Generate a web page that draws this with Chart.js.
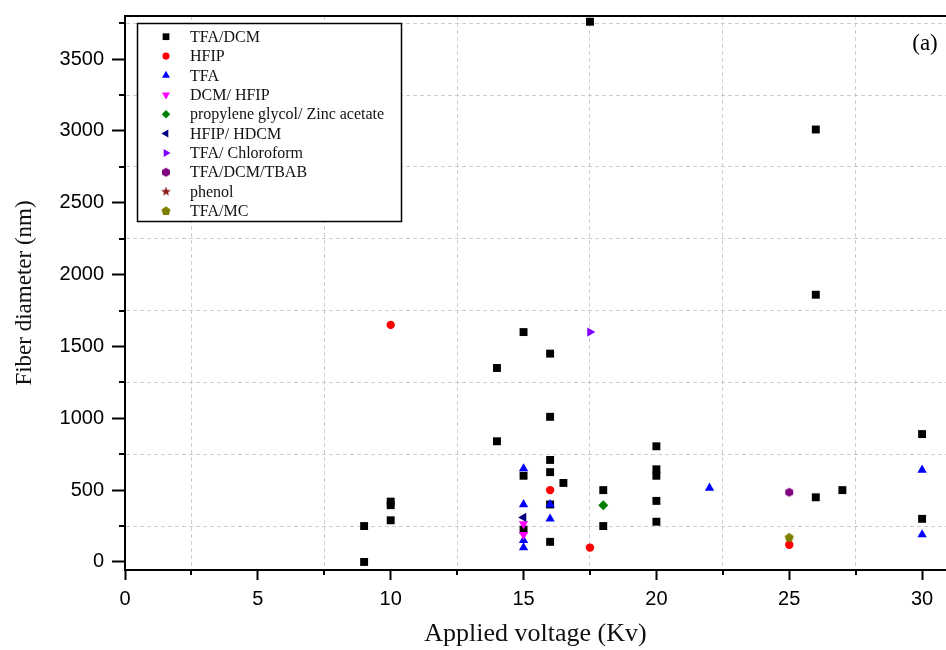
<!DOCTYPE html>
<html>
<head>
<meta charset="utf-8">
<script src="https://cdn.jsdelivr.net/npm/chart.js@4.4.0/dist/chart.umd.min.js"></script>
<style>
  html, body { margin: 0; padding: 0; background: #fff; }
</style>
</head>
<body>
<canvas id="c" width="946" height="650"></canvas>
<script>
// x = applied voltage (kV), y = fiber diameter (nm)
const tfaDcmX = [9, 9, 10, 10, 10, 14, 14, 15, 15, 15, 16, 16, 16, 16, 16, 16, 16.5, 17.5, 18, 18, 20, 20, 20, 20, 20, 26, 26, 26, 27, 30, 30];
const tfaDcmY = [0, 250, 420, 395, 290, 1350, 840, 1600, 600, 225, 1450, 1010, 710, 625, 400, 140, 550, 3760, 500, 250, 805, 645, 600, 425, 280, 3010, 1860, 450, 500, 890, 300];

const hfipX = [10, 16, 17.5, 25];
const hfipY = [1650, 500, 100, 120];

const tfaX = [15, 15, 15, 15, 16, 16, 22, 30, 30];
const tfaY = [650, 400, 150, 100, 400, 300, 515, 640, 190];

const dcmHfipX = [15, 15];
const dcmHfipY = [265, 190];

const pgZnX = [18];
const pgZnY = [395];

const hfipHdcmX = [15];
const hfipHdcmY = [310];

const tfaChlX = [17.5];
const tfaChlY = [1600];

const tbabX = [25];
const tbabY = [485];

const phenolX = [];
const phenolY = [];

const tfaMcX = [25];
const tfaMcY = [170];

const xMax = 30.9;
const yMin = -56, yMax = 3800;
const xMajor = [0, 5, 10, 15, 20, 25, 30];
const yMajor = [0, 500, 1000, 1500, 2000, 2500, 3000, 3500];
const xMinor = xMajor.map(v => v + 2.5).filter(v => v < xMax);
const yMinor = yMajor.map(v => v + 250).filter(v => v < yMax);

const gridColor = 'rgba(200,180,198,0.75)';

function pts(xs, ys) {
    return xs.map(function(x, i) { return { x: x, y: ys[i] }; });
}

// eigene Marker (Sechseck, Fuenfeck, Stern)
function shapeCanvas(n, r, color, inner) {
    const s = Math.ceil(r * 2 + 2);
    const cv = document.createElement('canvas');
    cv.width = s; cv.height = s;
    const g = cv.getContext('2d');
    g.fillStyle = color;
    g.beginPath();
    const steps = inner ? n * 2 : n;
    for (let i = 0; i < steps; i++) {
        const a = -Math.PI / 2 + i * Math.PI * 2 / steps;
        const rr = inner && i % 2 ? r * inner : r;
        const px = s / 2 + rr * Math.cos(a), py = s / 2 + rr * Math.sin(a);
        if (i === 0) g.moveTo(px, py); else g.lineTo(px, py);
    }
    g.closePath();
    g.fill();
    return cv;
}

function ds(label, xs, ys, color, style, radius, rot) {
    return {
        label: label,
        data: pts(xs, ys),
        backgroundColor: color,
        borderColor: color,
        pointStyle: style,
        pointRadius: radius,
        pointRotation: rot || 0,
        pointBorderWidth: 0,
        showLine: false
    };
}

const datasets = [
    ds('TFA/DCM', tfaDcmX, tfaDcmY, '#000000', 'rect', 5.6),
    ds('HFIP', hfipX, hfipY, '#ff0000', 'circle', 4.2),
    ds('TFA', tfaX, tfaY, '#0000ff', 'triangle', 5.4),
    ds('DCM/ HFIP', dcmHfipX, dcmHfipY, '#ff00ff', 'triangle', 5.4, 180),
    ds('propylene glycol/ Zinc acetate', pgZnX, pgZnY, '#008000', 'rectRot', 5),
    ds('HFIP/ HDCM', hfipHdcmX, hfipHdcmY, '#000080', 'triangle', 5.4, -90),
    ds('TFA/ Chloroform', tfaChlX, tfaChlY, '#8000ff', 'triangle', 5.4, 90),
    ds('TFA/DCM/TBAB', tbabX, tbabY, '#800080', shapeCanvas(6, 4.6, '#800080'), 4.6),
    ds('phenol', phenolX, phenolY, '#8b1a1a', shapeCanvas(5, 5, '#8b1a1a', 0.42), 5),
    ds('TFA/MC', tfaMcX, tfaMcY, '#808000', shapeCanvas(5, 4.8, '#808000'), 4.8)
];
datasets.forEach(function(d, i) { d.order = -i; });

const framePlugin = {
    id: 'frame',
    afterDraw: function(chart) {
        const ctx = chart.ctx;
        const a = chart.chartArea;
        const xs = chart.scales.x, ys = chart.scales.y;
        ctx.save();
        // obere Rahmenlinie
        ctx.strokeStyle = '#000';
        ctx.lineWidth = 2;
        ctx.beginPath();
        ctx.moveTo(a.left - 1, a.top);
        ctx.lineTo(a.right, a.top);
        ctx.stroke();
        // kurze Nebenstriche
        xMinor.forEach(function(v) {
            const p = Math.round(xs.getPixelForValue(v));
            ctx.beginPath(); ctx.moveTo(p, a.bottom); ctx.lineTo(p, a.bottom + 5); ctx.stroke();
        });
        yMinor.forEach(function(v) {
            const p = Math.round(ys.getPixelForValue(v));
            ctx.beginPath(); ctx.moveTo(a.left, p); ctx.lineTo(a.left - 6, p); ctx.stroke();
        });
        // Legende
        const lx = 137.5, ly = 23.5, lw = 264, lh = 198;
        ctx.fillStyle = '#fff';
        ctx.fillRect(lx, ly, lw, lh);
        ctx.lineWidth = 1.5;
        ctx.strokeRect(lx, ly, lw, lh);
        ctx.font = '16px "Liberation Serif", "Times New Roman", serif';
        ctx.textBaseline = 'middle';
        chart.data.datasets.forEach(function(d, i) {
            const y = 36.7 + i * 19.37;
            ctx.fillStyle = d.backgroundColor;
            Chart.helpers.drawPoint(ctx, {
                pointStyle: d.pointStyle,
                rotation: d.pointRotation,
                radius: d.pointRadius * 0.85,
                borderWidth: 0
            }, 166, y);
            ctx.fillStyle = '#111';
            ctx.fillText(d.label, 190, y + 1);
        });
        // Panel-Kennung
        ctx.font = '23px "Liberation Serif", "Times New Roman", serif';
        ctx.fillStyle = '#000';
        ctx.textAlign = 'center';
        ctx.fillText('(a)', 925, 44);
        ctx.restore();
    }
};

const ctx = document.getElementById('c');
new Chart(ctx.getContext('2d'), {
    type: 'scatter',
    data: { datasets: datasets },
    options: {
        responsive: false,
        animation: false,
        events: [],
        layout: { autoPadding: false, padding: { top: 16, right: 0, left: 0, bottom: 0 } },
        plugins: {
            legend: { display: false },
            tooltip: { enabled: false }
        },
        scales: {
            x: {
                type: 'linear',
                min: 0,
                max: xMax,
                afterBuildTicks: function(scale) {
                    scale.ticks = xMajor.concat(xMinor).sort(function(a, b) { return a - b; })
                        .map(function(v) { return { value: v }; });
                },
                afterFit: function(scale) {
                    scale.height = 80;
                    scale.paddingLeft = 0;
                    scale.paddingRight = 0;
                },
                border: { display: true, color: '#000', width: 2, dash: [4, 3] },
                grid: {
                    color: function(c) {
                        return c.tick && xMinor.includes(c.tick.value) ? gridColor : 'rgba(0,0,0,0)';
                    },
                    lineWidth: 1,
                    tickLength: 10,
                    tickWidth: 2,
                    tickBorderDash: [],
                    tickColor: function(c) {
                        return c.tick && xMajor.includes(c.tick.value) ? '#000' : 'rgba(0,0,0,0)';
                    }
                },
                ticks: {
                    autoSkip: false,
                    maxRotation: 0,
                    padding: 7,
                    color: '#000',
                    font: { family: '"Liberation Sans", Arial, sans-serif', size: 20 },
                    callback: function(v) { return xMajor.includes(v) ? String(v) : ''; }
                },
                title: {
                    display: true,
                    text: 'Applied voltage (Kv)',
                    color: '#111',
                    font: { family: '"Liberation Serif", "Times New Roman", serif', size: 26 },
                    padding: { top: 0, bottom: 0 }
                }
            },
            y: {
                type: 'linear',
                min: yMin,
                max: yMax,
                afterBuildTicks: function(scale) {
                    scale.ticks = yMajor.concat(yMinor).sort(function(a, b) { return a - b; })
                        .map(function(v) { return { value: v }; });
                },
                afterFit: function(scale) {
                    scale.width = 125;
                    scale.paddingTop = 0;
                    scale.paddingBottom = 0;
                },
                border: { display: true, color: '#000', width: 2, dash: [4, 3] },
                grid: {
                    color: function(c) {
                        return c.tick && yMinor.includes(c.tick.value) ? gridColor : 'rgba(0,0,0,0)';
                    },
                    lineWidth: 1,
                    tickLength: 13,
                    tickWidth: 2,
                    tickBorderDash: [],
                    tickColor: function(c) {
                        return c.tick && yMajor.includes(c.tick.value) ? '#000' : 'rgba(0,0,0,0)';
                    }
                },
                ticks: {
                    autoSkip: false,
                    padding: 8,
                    color: '#000',
                    font: { family: '"Liberation Sans", Arial, sans-serif', size: 20 },
                    callback: function(v) { return yMajor.includes(v) ? String(v) : ''; }
                },
                title: {
                    display: true,
                    text: 'Fiber diameter (nm)',
                    color: '#111',
                    font: { family: '"Liberation Serif", "Times New Roman", serif', size: 23 },
                    padding: { top: 11, bottom: 0 }
                }
            }
        }
    },
    plugins: [framePlugin]
});
</script>
</body>
</html>
